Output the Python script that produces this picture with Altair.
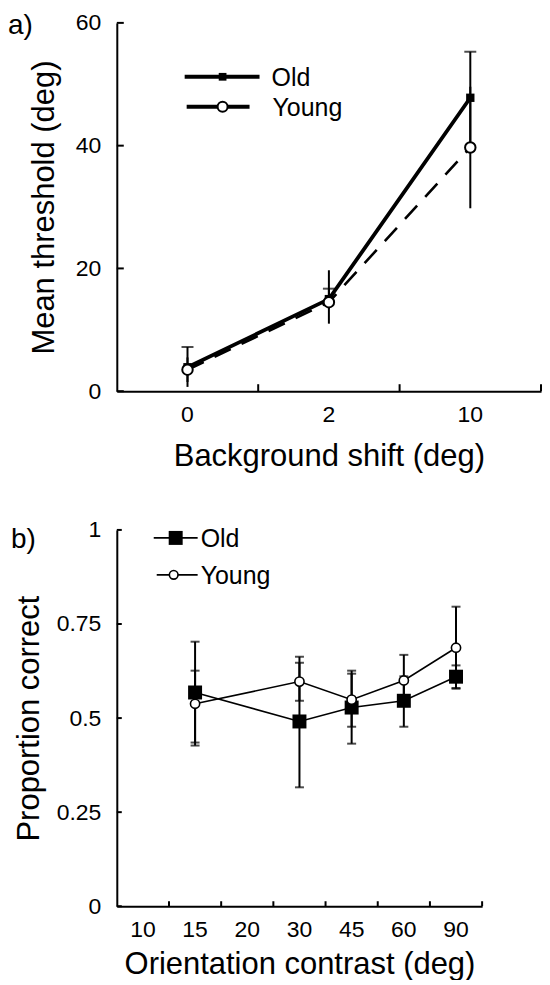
import altair as alt
import pandas as pd

# ---------------- data ----------------
groups = ["Old", "Young"]

# panel a
shift = [0, 2, 10]
old_a = [3.9, 15.0, 47.8]
young_a = [3.5, 14.5, 39.7]
old_a_lo = [0.7, 13.4, 40.3]
old_a_hi = [7.2, 16.7, 55.3]
young_a_lo = [1.5, 11.0, 29.8]
young_a_hi = [5.5, 19.7, 49.6]
yticks_a = [0, 20, 40, 60]

# panel b
contrast_all = [10, 15, 20, 30, 45, 60, 90]
contrast = [15, 30, 45, 60, 90]
old_b = [0.568, 0.491, 0.528, 0.546, 0.610]
young_b = [0.538, 0.597, 0.549, 0.600, 0.687]
old_b_lo = [0.435, 0.316, 0.432, 0.477, 0.580]
old_b_hi = [0.703, 0.663, 0.626, 0.611, 0.640]
young_b_lo = [0.427, 0.546, 0.477, 0.532, 0.578]
young_b_hi = [0.626, 0.647, 0.618, 0.668, 0.796]
yticks_b = [0, 0.25, 0.5, 0.75, 1]

FONT = "Liberation Sans"

df_a = pd.DataFrame({
    "group": ["Old"] * 3 + ["Young"] * 3,
    "shift": shift + shift,
    "value": old_a + young_a,
    "lo": old_a_lo + young_a_lo,
    "hi": old_a_hi + young_a_hi,
})
df_b = pd.DataFrame({
    "group": ["Old"] * 5 + ["Young"] * 5,
    "contrast": contrast + contrast,
    "value": old_b + young_b,
    "lo": old_b_lo + young_b_lo,
    "hi": old_b_hi + young_b_hi,
})
cats_a = pd.DataFrame({"shift": shift})
cats_b = pd.DataFrame({"contrast": contrast_all})
yt_a = pd.DataFrame({"v": yticks_a})
yt_b = pd.DataFrame({"v": yticks_b})
one = pd.DataFrame({"k": [0]})

# ---------------- panel a ----------------
WA, HA = 425, 369
xa_scale = alt.Scale(type="band", domain=shift, paddingInner=0, paddingOuter=0)
ya_scale = alt.Scale(domain=[0, 60], nice=False)

xa = alt.X("shift:O", scale=xa_scale, bandPosition=0.5,
           axis=alt.Axis(title="Background shift (deg)", labelAngle=0,
                         ticks=False, tickSize=0, labelPadding=12, titlePadding=15))
ya = alt.Y("value:Q", scale=ya_scale,
           axis=alt.Axis(title="Mean threshold (deg)", values=yticks_a,
                         ticks=False, tickSize=0, labelPadding=16, titlePadding=15))

base_a = alt.Chart(df_a)
line_old_a = base_a.transform_filter(alt.datum.group == "Old").mark_line(
    color="black", strokeWidth=3.8).encode(x=xa, y=ya)
line_young_a = base_a.transform_filter(alt.datum.group == "Young").mark_line(
    color="black", strokeWidth=2.6, strokeDash=[18, 12]).encode(x=xa, y=ya)
err_a = base_a.mark_rule(color="black", strokeWidth=2).encode(
    x=alt.X("shift:O", scale=xa_scale, bandPosition=0.5),
    y=alt.Y("lo:Q", scale=ya_scale), y2="hi:Q")
cap_a = base_a.transform_filter(alt.datum.group == "Old").mark_tick(
    color="black", thickness=2, size=12).encode(
    x=alt.X("shift:O", scale=xa_scale, bandPosition=0.5),
    y=alt.Y("hi:Q", scale=ya_scale))
pt_old_a = base_a.transform_filter(alt.datum.group == "Old").mark_point(
    shape="square", filled=True, color="black", size=70, opacity=1).encode(x=xa, y=ya)
pt_young_a = base_a.transform_filter(alt.datum.group == "Young").mark_point(
    shape="circle", filled=True, fill="white", stroke="black", strokeWidth=2,
    size=110, opacity=1).encode(x=xa, y=ya)
xt_a = alt.Chart(cats_a).mark_rule(color="black", strokeWidth=2).encode(
    x=alt.X("shift:O", scale=xa_scale, bandPosition=1),
    y=alt.value(HA), y2=alt.value(HA - 7))
yt_a_l = alt.Chart(yt_a).mark_rule(color="black", strokeWidth=2).encode(
    y=alt.Y("v:Q", scale=ya_scale), x=alt.value(0), x2=alt.value(7))

leg_a = [
    alt.Chart(one).mark_rule(color="black", strokeWidth=4).encode(
        x=alt.value(68), x2=alt.value(143), y=alt.value(54)),
    alt.Chart(one).mark_point(shape="square", filled=True, color="black", size=60,
                              opacity=1).encode(x=alt.value(106), y=alt.value(54)),
    alt.Chart(one).mark_text(text=groups[0], font=FONT, fontSize=25, align="left",
                             baseline="middle").encode(x=alt.value(155), y=alt.value(55)),
    alt.Chart(one).mark_rule(color="black", strokeWidth=4).encode(
        x=alt.value(70), x2=alt.value(133), y=alt.value(84)),
    alt.Chart(one).mark_point(shape="circle", filled=True, fill="white", stroke="black",
                              strokeWidth=2, size=100, opacity=1).encode(
        x=alt.value(106), y=alt.value(84)),
    alt.Chart(one).mark_text(text=groups[1], font=FONT, fontSize=25, align="left",
                             baseline="middle").encode(x=alt.value(156), y=alt.value(85)),
    alt.Chart(one).mark_text(text="a)", font=FONT, fontSize=28, align="left",
                             baseline="middle").encode(x=alt.value(-109), y=alt.value(3)),
]

panel_a = alt.layer(line_young_a, line_old_a, err_a, cap_a, pt_old_a, pt_young_a,
                    xt_a, yt_a_l, *leg_a).properties(width=WA, height=HA)

# ---------------- panel b ----------------
WB, HB = 366, 377
xb_scale = alt.Scale(type="band", domain=contrast_all, paddingInner=0, paddingOuter=0)
yb_scale = alt.Scale(domain=[0, 1], nice=False)

xb = alt.X("contrast:O", scale=xb_scale, bandPosition=0.5,
           axis=alt.Axis(title="Orientation contrast (deg)", labelAngle=0,
                         ticks=False, tickSize=0, labelPadding=12, titlePadding=8))
yb = alt.Y("value:Q", scale=yb_scale,
           axis=alt.Axis(title="Proportion correct", values=yticks_b, format=".2~f",
                         ticks=False, tickSize=0, labelPadding=16, titlePadding=11))

base_b = alt.Chart(df_b)
line_b = base_b.mark_line(color="black", strokeWidth=1.6).encode(
    x=xb, y=yb, detail="group:N")
err_b = base_b.mark_rule(color="black", strokeWidth=2).encode(
    x=alt.X("contrast:O", scale=xb_scale, bandPosition=0.5),
    y=alt.Y("lo:Q", scale=yb_scale), y2="hi:Q")
cap_lo_b = base_b.mark_tick(color="black", thickness=2, size=9).encode(
    x=alt.X("contrast:O", scale=xb_scale, bandPosition=0.5),
    y=alt.Y("lo:Q", scale=yb_scale))
cap_hi_b = base_b.mark_tick(color="black", thickness=2, size=9).encode(
    x=alt.X("contrast:O", scale=xb_scale, bandPosition=0.5),
    y=alt.Y("hi:Q", scale=yb_scale))
pt_old_b = base_b.transform_filter(alt.datum.group == "Old").mark_point(
    shape="square", filled=True, color="black", size=196, opacity=1).encode(x=xb, y=yb)
pt_young_b = base_b.transform_filter(alt.datum.group == "Young").mark_point(
    shape="circle", filled=True, fill="white", stroke="black", strokeWidth=1.6,
    size=85, opacity=1).encode(x=xb, y=yb)
xt_b = alt.Chart(cats_b).mark_rule(color="black", strokeWidth=2).encode(
    x=alt.X("contrast:O", scale=xb_scale, bandPosition=1),
    y=alt.value(HB), y2=alt.value(HB - 5))
yt_b_l = alt.Chart(yt_b).mark_rule(color="black", strokeWidth=2).encode(
    y=alt.Y("v:Q", scale=yb_scale), x=alt.value(0), x2=alt.value(5))

leg_b = [
    alt.Chart(one).mark_rule(color="black", strokeWidth=1.8).encode(
        x=alt.value(37), x2=alt.value(81), y=alt.value(8)),
    alt.Chart(one).mark_point(shape="square", filled=True, color="black", size=196,
                              opacity=1).encode(x=alt.value(59), y=alt.value(8)),
    alt.Chart(one).mark_text(text=groups[0], font=FONT, fontSize=25, align="left",
                             baseline="middle").encode(x=alt.value(84), y=alt.value(9)),
    alt.Chart(one).mark_rule(color="black", strokeWidth=1.8).encode(
        x=alt.value(40), x2=alt.value(81), y=alt.value(45)),
    alt.Chart(one).mark_point(shape="circle", filled=True, fill="white", stroke="black",
                              strokeWidth=1.6, size=75, opacity=1).encode(
        x=alt.value(57), y=alt.value(45)),
    alt.Chart(one).mark_text(text=groups[1], font=FONT, fontSize=25, align="left",
                             baseline="middle").encode(x=alt.value(84), y=alt.value(46)),
    alt.Chart(one).mark_text(text="b)", font=FONT, fontSize=28, align="left",
                             baseline="middle").encode(x=alt.value(-106), y=alt.value(10)),
]

panel_b = alt.layer(line_b, err_b, cap_lo_b, cap_hi_b, pt_old_b, pt_young_b,
                    xt_b, yt_b_l, *leg_b).properties(width=WB, height=HB)

chart = alt.vconcat(panel_a, panel_b, spacing=48).properties(
    padding={"top": 3, "left": 0, "right": 0, "bottom": 0}
).configure_view(stroke=None).configure_axis(
    grid=False, domainColor="black", domainWidth=2, labelColor="black",
    titleColor="black", labelFont=FONT, titleFont=FONT, labelFontSize=23,
    titleFontSize=31, titleFontWeight="normal"
).configure_text(color="black")

chart.save("out.html", embed_options={"renderer": "svg", "actions": False})
